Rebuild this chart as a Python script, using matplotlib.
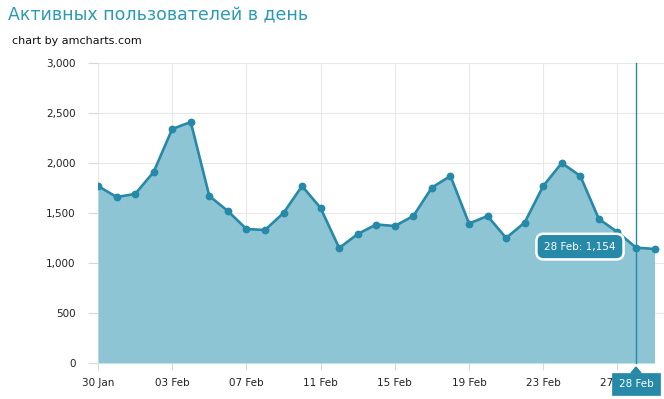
import matplotlib
matplotlib.use("Agg")
import matplotlib.pyplot as plt
import matplotlib.dates as mdates
from matplotlib.patches import Polygon
import datetime as dt

# ---- data ----
dates = ["2014-01-30", "2014-01-31", "2014-02-01", "2014-02-02", "2014-02-03",
         "2014-02-04", "2014-02-05", "2014-02-06", "2014-02-07", "2014-02-08",
         "2014-02-09", "2014-02-10", "2014-02-11", "2014-02-12", "2014-02-13",
         "2014-02-14", "2014-02-15", "2014-02-16", "2014-02-17", "2014-02-18",
         "2014-02-19", "2014-02-20", "2014-02-21", "2014-02-22", "2014-02-23",
         "2014-02-24", "2014-02-25", "2014-02-26", "2014-02-27", "2014-02-28",
         "2014-03-01"]
users = [1770, 1660, 1690, 1910, 2340, 2410, 1670, 1520, 1340, 1330,
         1500, 1770, 1550, 1150, 1290, 1385, 1370, 1470, 1755, 1870,
         1395, 1470, 1250, 1405, 1770, 2000, 1870, 1440, 1310, 1154,
         1140]
y_ticks = [0, 500, 1000, 1500, 2000, 2500, 3000]
title = "Активных пользователей в день"
subtitle = "chart by amcharts.com"
cursor_date = "2014-02-28"
cursor_value = 1154

LINE = "#2689a8"
FILL = "#8ec5d5"
GRID = "#e8e8e8"
TICK = "#d8d8d8"

x = [dt.datetime.strptime(d, "%Y-%m-%d") for d in dates]
xn = mdates.date2num(x)

fig = plt.figure(figsize=(6.64, 3.99), dpi=100)
W, H = 664, 399
ax = fig.add_axes([98 / W, (H - 363) / H, (664 - 98) / W, 300 / H])

ax.fill_between(xn, users, 0, color=FILL, lw=0, zorder=2)
ax.plot(xn, users, color=LINE, lw=1.9, marker="o", ms=4.6, mec=LINE, mfc=LINE, zorder=4)

ax.set_ylim(0, 3000)
ax.set_xlim(xn[0], xn[-1] + 0.51)
ax.set_yticks(y_ticks)
ax.set_yticklabels([f"{v:,}" for v in y_ticks])
xt = xn[::4]
ax.set_xticks(xt)
ax.set_xticklabels([mdates.num2date(v).strftime("%d %b") for v in xt])

ax.grid(True, color=GRID, lw=0.8, zorder=0)
ax.set_axisbelow(True)
for s in ax.spines.values():
    s.set_visible(False)
ax.tick_params(axis="y", length=7.2, width=0.8, color=TICK, pad=9, labelsize=7.5, labelcolor="#222222")
ax.tick_params(axis="x", length=5, width=0.8, color=TICK, pad=6, labelsize=7.5, labelcolor="#222222")

# cursor line
cx = mdates.date2num(dt.datetime.strptime(cursor_date, "%Y-%m-%d"))
ax.plot([cx, cx], [0, 3000], color=LINE, lw=1, zorder=5, clip_on=False)

label_date = dt.datetime.strptime(cursor_date, "%Y-%m-%d").strftime("%d %b")

# value balloon
ax.annotate(f"{label_date}: {cursor_value:,}",
            xy=(cx, cursor_value), xytext=(-56, 1), textcoords="offset pixels",
            ha="center", va="center", color="white", fontsize=7.5, zorder=7,
            bbox=dict(boxstyle="round,pad=0.75,rounding_size=0.7", fc=LINE, ec="white", lw=1.8))

# category balloon
ax.annotate(label_date,
            xy=(cx, 0), xytext=(0, -21), textcoords="offset pixels",
            ha="center", va="center", color="white", fontsize=7.5, zorder=7,
            annotation_clip=False,
            bbox=dict(boxstyle="square,pad=0.6", fc=LINE, ec=LINE, lw=0.5))
fig.canvas.draw()
px, py = ax.transData.transform((cx, 0))
tri = Polygon([(px - 5, py - 10), (px + 5, py - 10), (px, py - 4)], closed=True,
              transform=None, fc=LINE, ec=LINE, zorder=6)
fig.patches.append(tri)

fig.text(8 / W, 1 - 15 / H, title, fontsize=12.5, color="#2a9ab5", ha="left", va="center")
fig.text(12 / W, 1 - 41 / H, subtitle, fontsize=8, color="#111111", ha="left", va="center")

fig.savefig("out.png", dpi=100)
